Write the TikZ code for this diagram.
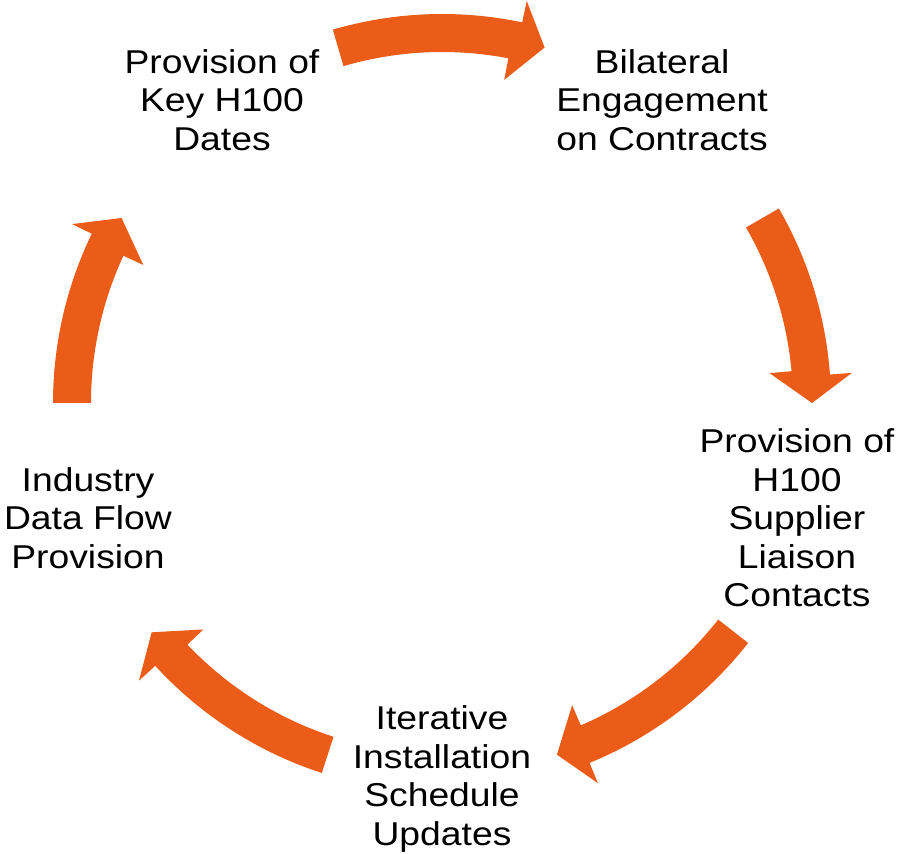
\documentclass[tikz,border=0pt]{standalone}
\usepackage{fontspec}
\setmainfont{Liberation Sans}[FakeStretch=1.13]
\definecolor{cycorange}{RGB}{234,92,24}

\begin{document}
\begin{tikzpicture}[x=1pt,y=1pt]
   \useasboundingbox (0,0) rectangle (898,854);
   \tikzstyle{stage}=[align=center, inner sep=0pt, font=\fontsize{33}{38.5}\selectfont]
   \tikzstyle{cyc}=[fill=cycorange, draw=none]
   \coordinate (hub) at (442,451);
   % curved block arrows round the cycle, tail angle / tip angle
   \foreach \tail/\tip in {106.3/73.9, 30/0, -38.1/-71.9, -108/-141.7, 180/150} {
       \pgfmathsetmacro{\bout}{\tip+4.2}
       \pgfmathsetmacro{\bin}{\tip+5.2}
       \fill[cyc, shift={(hub)}] (\tail:389) arc[start angle=\tail, end angle=\bout, radius=389]
           -- (\bout:411) -- (\tip:370) -- (\bin:329) -- (\bin:351)
           arc[start angle=\bin, end angle=\tail, radius=351] -- cycle;
   }
   \node[stage] (dates) at (222,754) {Provision of\\Key H100\\Dates};
   \node[stage] (contracts) at (662,754) {Bilateral\\Engagement\\on Contracts};
   \node[stage] (liaison) at (797,336) {Provision of\\H100\\Supplier\\Liaison\\Contacts};
   \node[stage] (schedule) at (442,75) {Iterative\\Installation\\Schedule\\Updates};
   \node[stage] (dataflow) at (88,336) {Industry\\Data Flow\\Provision};
\end{tikzpicture}
\end{document}
